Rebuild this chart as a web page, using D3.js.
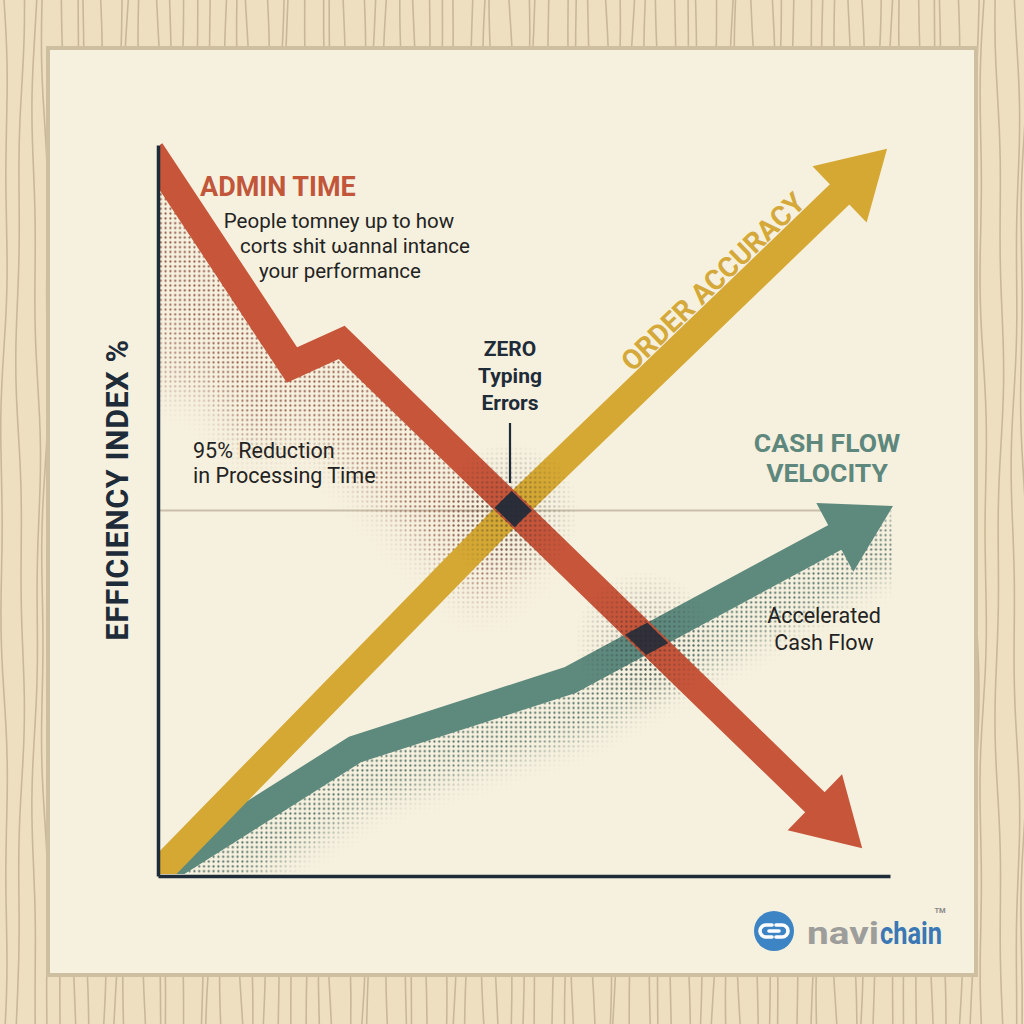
<!DOCTYPE html>
<html lang="en">
<head>
<meta charset="UTF-8" />
<title>Efficiency index</title>
<style>
  body { margin: 0; background: #efdfc1; }
  svg { display: block; }
  text { font-family: Roboto, "Open Sans", sans-serif; }
</style>
</head>
<body>
<div id="chart"></div>
<script src="https://cdn.jsdelivr.net/npm/d3@7"></script>
<script>
// series, [x, y] in index units (0-100); last point is the arrow tip
const adminTime = [[-1, 99.2], [18.3, 69.9], [25.1, 73.0], [96.2, 3.8]];
const orderAccuracy = [[-1, -0.6], [48.1, 49.8], [99.6, 99.5]];
const cashFlow = [[-1.5, -0.7], [26.9, 17.3], [56.3, 26.8], [100.4, 50.6]];
const gridValue = 50;

const adminNote = ["People tomney up to how", "corts shit ωannal intance", "your performance"];
const reductionNote = ["95% Reduction", "in Processing Time"];
const zeroNote = ["ZERO", "Typing", "Errors"];
const cashTitle = ["CASH FLOW", "VELOCITY"];
const cashNote = ["Accelerated", "Cash Flow"];

const width = 1024, height = 1024;
const red = "#c6553a", gold = "#d5a833", teal = "#5e8a7e", navy = "#1e2b38";

const svg = d3.select("#chart").append("svg")
  .attr("width", width).attr("height", height);
const defs = svg.append("defs");

// ---- wood background
svg.append("rect").attr("width", width).attr("height", height).attr("fill", "#efdfc1");
const grain = d3.line().curve(d3.curveBasis);
const wood = svg.append("g").attr("fill", "none").attr("stroke", "#c9b898").attr("stroke-width", 1.6);
for (let i = 0; i < 76; i++) {
  const x0 = 4 + i * 13.6 + (i % 3) * 2.5;
  const pts = d3.range(0, 1025, 32).map(yy => [x0 + 3.2 * Math.sin(yy / 110 + i * 1.7) + 1.5 * Math.sin(yy / 37 + i), yy]);
  wood.append("path").attr("d", grain(pts));
}

// ---- card
svg.append("rect")
  .attr("x", 48).attr("y", 48).attr("width", 928).attr("height", 927)
  .attr("fill", "#f6f0de").attr("stroke", "#cdbf9f").attr("stroke-width", 4);

// ---- scales
const x = d3.scaleLinear().domain([0, 100]).range([158, 890]);
const y = d3.scaleLinear().domain([0, 100]).range([876, 145]);
const px = s => s.map(d => [x(d[0]), y(d[1])]);

const headLen = 66, headW = 78, bandW = 28;
function arrowParts(s) {
  const p = px(s);
  const tip = p[p.length - 1], prev = p[p.length - 2];
  const dx = tip[0] - prev[0], dy = tip[1] - prev[1];
  const len = Math.hypot(dx, dy), ux = dx / len, uy = dy / len;
  const base = [tip[0] - ux * headLen, tip[1] - uy * headLen];
  const band = p.slice(0, -1).concat([[base[0] + ux * 3, base[1] + uy * 3]]);
  const head = [tip,
    [base[0] - uy * headW / 2, base[1] + ux * headW / 2],
    [base[0] + uy * headW / 2, base[1] - ux * headW / 2]];
  return { p, band, head };
}
const line = d3.line();

const adminA = arrowParts(adminTime);
const orderA = arrowParts(orderAccuracy);
const cashA = arrowParts(cashFlow);

// ---- patterns / masks
function dotPattern(id, color, r) {
  defs.append("pattern").attr("id", id).attr("width", 4.8).attr("height", 4.8)
    .attr("patternUnits", "userSpaceOnUse")
    .append("circle").attr("cx", 2.4).attr("cy", 2.4).attr("r", r).attr("fill", color);
}
dotPattern("dots-red", "#8e5444", 1.1);
dotPattern("dots-teal", "#4b6b64", 1.1);
dotPattern("dots-navy", "#2a2a2e", 1.15);

function blur(id, sd) {
  defs.append("filter").attr("id", id).attr("x", "-50%").attr("y", "-50%")
    .attr("width", "200%").attr("height", "200%")
    .append("feGaussianBlur").attr("stdDeviation", sd);
}
blur("blur", 18);
blur("blur-s", 12);

defs.append("clipPath").attr("id", "plot-clip").append("rect")
  .attr("x", 160).attr("y", 0).attr("width", 860).attr("height", 874);

// red halftone: below-left of admin line
const redBelow = adminA.p.concat([[adminA.p[adminA.p.length - 1][0], 900], [150, 900]]);
defs.append("clipPath").attr("id", "below-red").append("path").attr("d", line(redBelow) + "Z");
const mRed = defs.append("mask").attr("id", "fade-red");
mRed.append("rect").attr("width", width).attr("height", height).attr("fill", "black");
mRed.append("path").attr("d", line(adminA.p.slice(0, -1).concat([[540, 545]])))
  .attr("transform", "translate(-24,26)")
  .attr("fill", "none").attr("stroke", "white").attr("stroke-width", 95)
  .attr("filter", "url(#blur)");
mRed.append("rect").attr("x", 150).attr("y", 160).attr("width", 55).attr("height", 230)
  .attr("fill", "white").attr("opacity", 0.7).attr("filter", "url(#blur)");

// teal halftone: below cash flow line
const tealBelow = cashA.p.concat([[cashA.p[cashA.p.length - 1][0], 900], [150, 900]]);
defs.append("clipPath").attr("id", "below-teal").append("path").attr("d", line(tealBelow) + "Z");
const mTeal = defs.append("mask").attr("id", "fade-teal");
mTeal.append("rect").attr("width", width).attr("height", height).attr("fill", "black");
mTeal.append("path").attr("d", line(cashA.p))
  .attr("transform", "translate(4,26)")
  .attr("fill", "none").attr("stroke", "white").attr("stroke-width", 62)
  .attr("filter", "url(#blur-s)");

// crossing masks
function bandMask(id, a) {
  const m = defs.append("mask").attr("id", id);
  m.append("rect").attr("width", width).attr("height", height).attr("fill", "black");
  m.append("path").attr("d", line(a.band)).attr("fill", "none")
    .attr("stroke", "white").attr("stroke-width", bandW).attr("stroke-linejoin", "miter");
}
bandMask("m-order", orderA);
bandMask("m-cash", cashA);

const crossings = [[48.1, 49.8], [66.3, 32.2]];
crossings.forEach((c, i) => {
  const g = defs.append("radialGradient").attr("id", "rg" + i);
  g.append("stop").attr("offset", "0%").attr("stop-color", "white").attr("stop-opacity", 0.95);
  g.append("stop").attr("offset", "100%").attr("stop-color", "white").attr("stop-opacity", 0);
  const m = defs.append("mask").attr("id", "m-cross" + i);
  m.append("rect").attr("width", width).attr("height", height).attr("fill", "black");
  m.append("circle").attr("cx", x(c[0])).attr("cy", y(c[1])).attr("r", 70).attr("fill", "url(#rg" + i + ")");
});

// ---- gridline
svg.append("line")
  .attr("x1", x(0)).attr("x2", x(94)).attr("y1", y(gridValue)).attr("y2", y(gridValue))
  .attr("stroke", "#c9bfa9").attr("stroke-width", 2);

const plot = svg.append("g").attr("clip-path", "url(#plot-clip)");

// halftone areas
plot.append("g").attr("clip-path", "url(#below-red)")
  .append("rect").attr("width", width).attr("height", height)
  .attr("fill", "url(#dots-red)").attr("mask", "url(#fade-red)");
plot.append("g").attr("clip-path", "url(#below-teal)")
  .append("rect").attr("width", width).attr("height", height)
  .attr("fill", "url(#dots-teal)").attr("mask", "url(#fade-teal)");

// arrows
function drawArrow(a, color) {
  plot.append("path").attr("d", line(a.band)).attr("fill", "none")
    .attr("stroke", color).attr("stroke-width", bandW).attr("stroke-linejoin", "miter");
  plot.append("path").attr("d", line(a.head) + "Z").attr("fill", color);
}
drawArrow(cashA, teal);
drawArrow(orderA, gold);
drawArrow(adminA, red);

// dots near crossings
crossings.forEach((c, i) => {
  plot.append("rect").attr("width", width).attr("height", height)
    .attr("fill", "url(#dots-navy)").attr("mask", "url(#m-cross" + i + ")").attr("opacity", 0.7);
});

// dark squares at crossings
plot.append("path").attr("d", line(adminA.band)).attr("fill", "none")
  .attr("stroke", navy).attr("stroke-width", bandW - 4).attr("mask", "url(#m-order)").attr("opacity", 0.92);
plot.append("path").attr("d", line(adminA.band)).attr("fill", "none")
  .attr("stroke", navy).attr("stroke-width", bandW - 4).attr("mask", "url(#m-cash)").attr("opacity", 0.88);

// ---- axes
const axisStyle = g => {
  g.select(".domain").attr("stroke", navy).attr("stroke-width", 3.5);
  g.selectAll(".tick").remove();
};
svg.append("g").attr("transform", `translate(${x(0)},0)`)
  .call(d3.axisLeft(y).ticks(0).tickSizeOuter(0)).call(axisStyle);
svg.append("g").attr("transform", `translate(0,${y(0)})`)
  .call(d3.axisBottom(x).ticks(0).tickSizeOuter(0)).call(axisStyle);

svg.append("text")
  .attr("transform", "translate(128,490) rotate(-90)")
  .attr("text-anchor", "middle").attr("font-size", 30.5).attr("font-weight", 700)
  .attr("letter-spacing", 0.6).attr("fill", navy).text("EFFICIENCY INDEX %");

// ---- labels
svg.append("text").attr("x", 200).attr("y", 196)
  .attr("font-size", 27).attr("font-weight", 700).attr("fill", "#c1563a").text("ADMIN TIME");
const noteX = [339, 355, 340];
adminNote.forEach((t, i) => svg.append("text").attr("x", noteX[i]).attr("y", 228 + i * 25)
  .attr("text-anchor", "middle").attr("font-size", 20.5).attr("fill", "#232323").text(t));

reductionNote.forEach((t, i) => svg.append("text").attr("x", 193).attr("y", 458 + i * 25)
  .attr("font-size", 21.5).attr("fill", "#232323").text(t));

zeroNote.forEach((t, i) => svg.append("text").attr("x", 510).attr("y", 356 + i * 27)
  .attr("text-anchor", "middle").attr("font-size", 21).attr("font-weight", 700)
  .attr("fill", navy).text(t));
svg.append("line").attr("x1", 510).attr("x2", 510).attr("y1", 423).attr("y2", 483)
  .attr("stroke", navy).attr("stroke-width", 2.2);

svg.append("text")
  .attr("transform", "translate(713,282) rotate(-44)")
  .attr("text-anchor", "middle").attr("dominant-baseline", "central")
  .attr("font-size", 28).attr("font-weight", 700).attr("fill", "#d4a93a").text("ORDER ACCURACY");

cashTitle.forEach((t, i) => svg.append("text").attr("x", 827).attr("y", 452 + i * 30)
  .attr("text-anchor", "middle").attr("font-size", 26.5).attr("font-weight", 700)
  .attr("fill", "#5e887d").text(t));
cashNote.forEach((t, i) => svg.append("text").attr("x", 824).attr("y", 623 + i * 27)
  .attr("text-anchor", "middle").attr("font-size", 21.5).attr("fill", "#232323").text(t));

// ---- logo
const logo = svg.append("g");
logo.append("circle").attr("cx", 774).attr("cy", 931).attr("r", 20).attr("fill", "#3d84c4");
logo.append("path")
  .attr("d", "M772,925 h-6 a6,6 0 0 0 0,12 h6 M776,937 h6 a6,6 0 0 0 0,-12 h-6 M769,931 h10")
  .attr("fill", "none").attr("stroke", "white").attr("stroke-width", 3.6).attr("stroke-linecap", "round");
logo.append("text").attr("x", 807).attr("y", 944).attr("font-size", 31).attr("font-weight", 700)
  .attr("fill", "#9d9d9b").attr("textLength", 72).attr("lengthAdjust", "spacingAndGlyphs").text("navi");
logo.append("text").attr("x", 880).attr("y", 944).attr("font-size", 31).attr("font-weight", 700)
  .attr("fill", "#3a78b5").attr("textLength", 62).attr("lengthAdjust", "spacingAndGlyphs").text("chain");
logo.append("text").attr("x", 940).attr("y", 913).attr("text-anchor", "middle")
  .attr("font-size", 7.5).attr("font-weight", 700).attr("fill", "#8a8a8a").text("TM");
</script>
</body>
</html>
